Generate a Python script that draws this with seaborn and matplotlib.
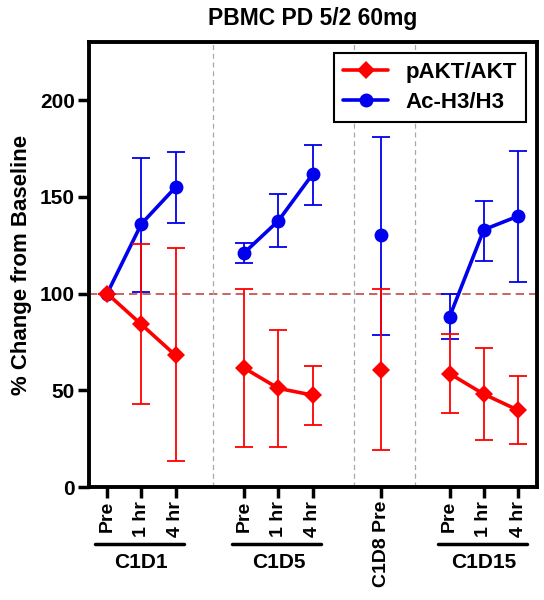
import numpy as np
import pandas as pd
import matplotlib
matplotlib.use("Agg")
import matplotlib.pyplot as plt
import matplotlib.transforms as mtransforms
from matplotlib.lines import Line2D
import seaborn as sns

sns.set_style("ticks")
plt.rcParams['font.family'] = ['Liberation Sans', 'DejaVu Sans']
plt.rcParams['font.weight'] = 'bold'
plt.rcParams['text.color'] = 'black'
plt.rcParams['axes.labelcolor'] = 'black'
plt.rcParams['xtick.color'] = 'black'
plt.rcParams['ytick.color'] = 'black'
plt.rcParams['axes.titlecolor'] = 'black'

# ---- data ----
positions = [0, 1, 2, 4, 5, 6, 8, 10, 11, 12]
tick_labels = ["Pre", "1 hr", "4 hr", "Pre", "1 hr", "4 hr", "C1D8 Pre", "Pre", "1 hr", "4 hr"]
groups = ["C1D1", "C1D1", "C1D1", "C1D5", "C1D5", "C1D5", "C1D8", "C1D15", "C1D15", "C1D15"]
group_labels = ["C1D1", "C1D5", "C1D15"]
group_spans = [(0, 2), (4, 6), (10, 12)]
separators = [3.1, 7.2, 9.0]

akt_mean = [100, 84, 68, 61.5, 51, 47.5, 60.7, 58.6, 48, 39.7]
akt_upper = [100, 125.6, 123.4, 102.4, 81.3, 62.5, 102.4, 79.2, 71.8, 57.2]
akt_lower = [100, 43, 13.4, 20.8, 20.8, 32, 19, 38.3, 24.2, 22.2]

h3_mean = [100, 136, 155, 121, 137.6, 161.7, 130, 88, 133, 140]
h3_upper = [100, 170, 173, 126, 151.7, 177, 181, 100, 148, 173.7]
h3_lower = [100, 101, 136.6, 116, 124, 146, 78.7, 76.3, 117, 106]

df = pd.DataFrame({
    "pos": positions + positions,
    "group": groups + groups,
    "value": akt_mean + h3_mean,
    "upper": akt_upper + h3_upper,
    "lower": akt_lower + h3_lower,
    "series": ["pAKT/AKT"] * len(positions) + ["Ac-H3/H3"] * len(positions),
})

RED = "#ff0000"
BLUE = "#0000ee"
style = {"pAKT/AKT": (RED, "D", 9), "Ac-H3/H3": (BLUE, "o", 10)}

fig = plt.figure(figsize=(5.44, 6.0), dpi=100)
ax = fig.add_axes([0.1636, 0.1883, 0.987 - 0.1636, 0.93 - 0.1883])

# baseline
ax.axhline(100, color="#c04848", lw=1.2, ls=(0, (5, 3)), zorder=1)
for s in separators:
    ax.axvline(s, color="#a8a8a8", lw=0.9, ls=(0, (4, 3)), zorder=1)

zbase = {"Ac-H3/H3": 2, "pAKT/AKT": 4}
for series in ["Ac-H3/H3", "pAKT/AKT"]:
    color, marker, ms = style[series]
    z = zbase[series]
    sub = df[df.series == series]
    ax.errorbar(sub.pos, sub.value,
                yerr=[sub.value - sub.lower, sub.upper - sub.value],
                fmt="none", ecolor=color, elinewidth=1.3, capsize=6.5,
                capthick=1.3, zorder=z)
    for g in sub.group.unique():
        gsub = sub[sub.group == g]
        sns.lineplot(data=gsub, x="pos", y="value", ax=ax, color=color,
                     lw=2.6, marker=marker, markersize=ms, markeredgewidth=0,
                     legend=False, zorder=z + 1, errorbar=None)

ax.set_xlim(-0.53, 12.55)
ax.set_ylim(0, 230)
ax.set_yticks([0, 50, 100, 150, 200])
ax.set_xticks(positions)
ax.set_xticklabels(tick_labels, rotation=90, fontsize=14, fontweight="bold")
for lbl in ax.get_yticklabels():
    lbl.set_fontsize(15)
    lbl.set_fontweight("bold")
ax.set_xlabel("")
ax.set_ylabel("% Change from Baseline", fontsize=16, fontweight="bold", labelpad=6)
ax.tick_params(axis="both", direction="out", length=8, width=2.5, color="black",
               labelcolor="black", pad=2)

for sp in ax.spines.values():
    sp.set_linewidth(2.8)
    sp.set_color("black")

ax.set_title("PBMC PD 5/2 60mg", fontsize=16.5, fontweight="bold", pad=12, color="black")

trans = mtransforms.blended_transform_factory(ax.transData, ax.transAxes)
for lbl, (a, b) in zip(group_labels, group_spans):
    ax.add_line(Line2D([a - 0.35, b + 0.25], [-0.127, -0.127], transform=trans,
                       color="black", lw=2.5, clip_on=False))
    ax.text((a + b) / 2, -0.148, lbl, transform=trans, ha="center", va="top",
            fontsize=15, fontweight="bold", color="black")

handles = [Line2D([], [], color=RED, marker="D", markersize=9, lw=2.6, markeredgewidth=0),
           Line2D([], [], color=BLUE, marker="o", markersize=10, lw=2.6, markeredgewidth=0)]
leg = ax.legend(handles, ["pAKT/AKT", "Ac-H3/H3"], loc="upper right",
                prop={"size": 16, "weight": "bold"}, frameon=True, fancybox=False,
                edgecolor="black", handlelength=2.0, borderaxespad=0.5,
                labelspacing=0.4, handletextpad=0.8, labelcolor="black")
leg.get_frame().set_linewidth(1.5)
leg.get_frame().set_alpha(1)
leg.set_zorder(10)

fig.savefig("out.png", dpi=100)
